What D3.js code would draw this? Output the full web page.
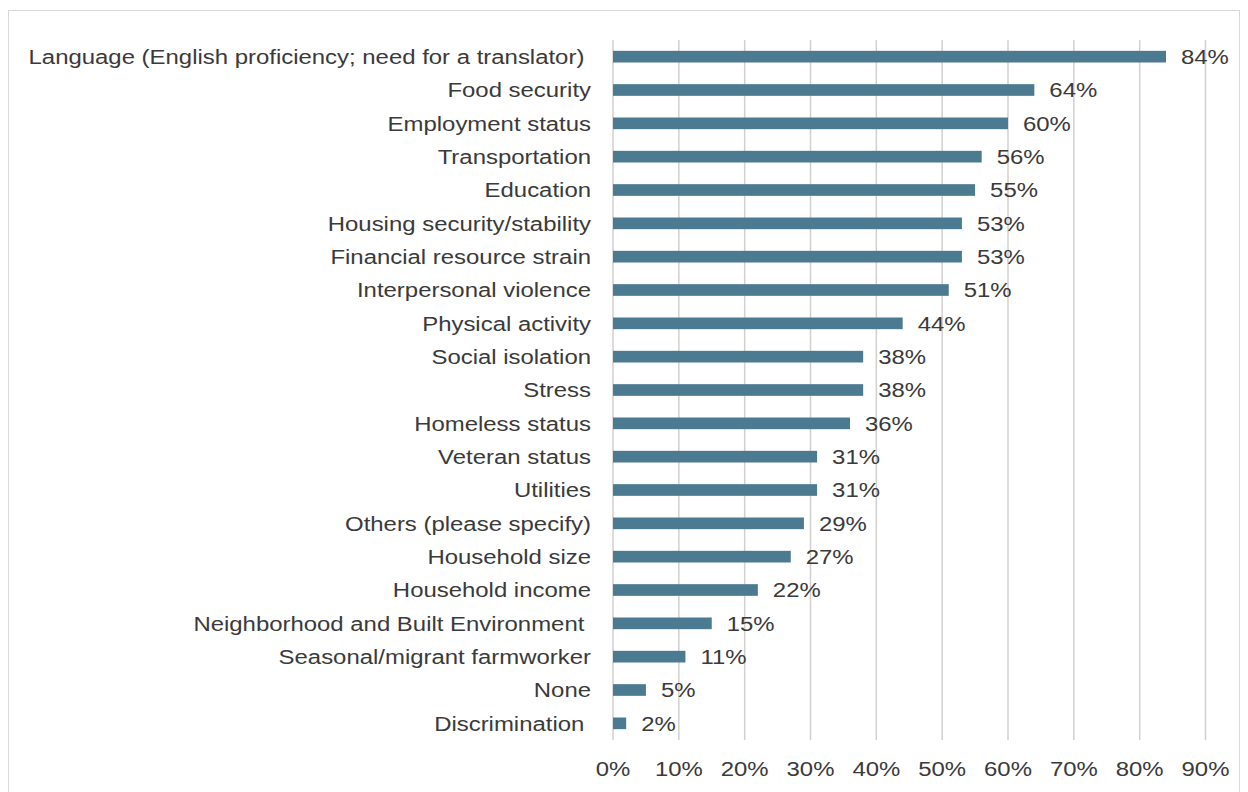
<!DOCTYPE html>
<html>
<head>
<meta charset="utf-8">
<script src="https://cdn.jsdelivr.net/npm/d3@7"></script>
<style>
  body { margin: 0; background: #fff; }
  text { font-family: "Liberation Sans", Arial, sans-serif; fill: #3a3a3a; white-space: pre; font-size: 21px; }
</style>
</head>
<body>
<div id="chart"></div>
<script>
const categories = [
  "Language (English proficiency; need for a translator) ",
  "Food security",
  "Employment status",
  "Transportation",
  "Education",
  "Housing security/stability",
  "Financial resource strain",
  "Interpersonal violence",
  "Physical activity",
  "Social isolation",
  "Stress",
  "Homeless status",
  "Veteran status",
  "Utilities",
  "Others (please specify)",
  "Household size",
  "Household income",
  "Neighborhood and Built Environment ",
  "Seasonal/migrant farmworker",
  "None",
  "Discrimination "
]
const values = [84, 64, 60, 56, 55, 53, 53, 51, 44, 38, 38, 36, 31, 31, 29, 27, 22, 15, 11, 5, 2]
const valueLabels = values.map(v => v + "%")
const ticks = [0, 10, 20, 30, 40, 50, 60, 70, 80, 90]

const width = 1248
const height = 792
const margin = { top: 40, left: 613, right: 42, bottom: 52 }
const stretch = 1.14  // text in the reference is drawn horizontally wider

const svg = d3.select("#chart")
  .append("svg")
  .attr("width", width)
  .attr("height", height)

// outer frame
svg.append("rect")
  .attr("x", 8.5).attr("y", 10.5)
  .attr("width", 1231).attr("height", 800)
  .attr("fill", "none")
  .attr("stroke", "#d9d9d9")
  .attr("stroke-width", 1)

const x = d3.scaleLinear()
  .domain([0, 90])
  .range([margin.left, margin.left + 592.5])

const y = d3.scaleBand()
  .domain(categories)
  .range([margin.top, height - margin.bottom])
  .paddingInner(0.65)
  .paddingOuter(0.325)

const gridBottom = height - margin.bottom

// gridlines
svg.append("g")
  .selectAll("line")
  .data(ticks)
  .join("line")
  .attr("x1", d => x(d)).attr("x2", d => x(d))
  .attr("y1", margin.top).attr("y2", gridBottom)
  .attr("stroke", "#d3cfcc")
  .attr("stroke-width", 1.5)

// x axis labels
svg.append("g")
  .selectAll("text")
  .data(ticks)
  .join("text")
  .attr("transform", d => `translate(${x(d)},776) scale(${stretch},1)`)
  .attr("text-anchor", "middle")
  .text(d => d + "%")

// bars
svg.append("g")
  .selectAll("rect")
  .data(values)
  .join("rect")
  .attr("x", x(0))
  .attr("y", (d, i) => y(categories[i]))
  .attr("width", d => x(d) - x(0))
  .attr("height", y.bandwidth())
  .attr("fill", "#4c7a91")

// category labels
svg.append("g")
  .selectAll("text")
  .data(categories)
  .join("text")
  .attr("transform", d => `translate(${margin.left - 22},${y(d) + y.bandwidth() / 2}) scale(${stretch},1)`)
  .attr("dy", "0.35em")
  .attr("text-anchor", "end")
  .text(d => d)

// value labels
svg.append("g")
  .selectAll("text")
  .data(values)
  .join("text")
  .attr("transform", (d, i) => `translate(${x(d) + 15},${y(categories[i]) + y.bandwidth() / 2}) scale(${stretch},1)`)
  .attr("dy", "0.35em")
  .text((d, i) => valueLabels[i])
</script>
</body>
</html>
